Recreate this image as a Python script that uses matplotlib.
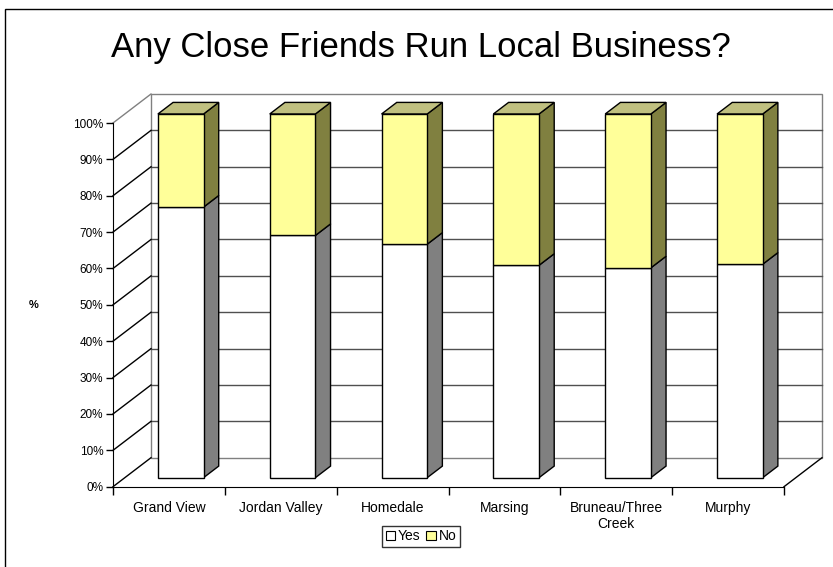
import numpy as np
import matplotlib
matplotlib.use("Agg")
import matplotlib.pyplot as plt
from matplotlib.patches import Polygon, Patch, Rectangle
from matplotlib.lines import Line2D
from matplotlib.transforms import IdentityTransform

plt.rcParams['font.family'] = ['Liberation Sans', 'DejaVu Sans']

title = 'Any Close Friends Run Local Business?'
towns = ['Grand View', 'Jordan Valley', 'Homedale', 'Marsing',
         'Bruneau/Three\nCreek', 'Murphy']
yes_pct = [74.4, 66.6, 64.2, 58.4, 57.7, 58.7]
no_pct = [25.6, 33.4, 35.8, 41.6, 42.3, 41.3]
series = ['Yes', 'No']
pct_ticks = list(range(0, 101, 10))

# colours: front face, side face, top face
face_col = {'Yes': ('#FFFFFF', '#808080', '#C0C0C0'),
            'No': ('#FFFF99', '#808040', '#C0C080')}

W, H, DPI = 833, 567, 100
DEPTH = (38, 29)           # pixel shift from front plane to back wall
BAR_D = (0.31, 0.71)       # bar depth, as fraction of the full depth
BAR_W = 0.408

fig = plt.figure(figsize=(W / DPI, H / DPI), dpi=DPI)
fig.patch.set_facecolor('white')
fig.patches.append(Rectangle((5 / W, -0.1), 1.1, 1 - 9 / H + 0.1,
                             transform=fig.transFigure, fill=False,
                             edgecolor='#000000', linewidth=1.0))

ax = fig.add_axes([113 / W, (H - 486.7) / H, 671 / W, 363.7 / H])
ax.set_xlim(0, len(towns))
ax.set_ylim(0, 100)
ax.patch.set_visible(False)
for s in ['top', 'right']:
    ax.spines[s].set_visible(False)
ax.spines['left'].set_color('#000000')
ax.spines['bottom'].set_color('#000000')
ax.spines['left'].set_zorder(6)
ax.spines['bottom'].set_zorder(6)

ax.set_yticks(pct_ticks)
ax.set_yticklabels([f'{v}%' for v in pct_ticks], fontsize=8.5)
ax.tick_params(axis='y', direction='out', length=5, width=1, pad=2)
ax.set_xticks(np.arange(len(towns) + 1))
ax.set_xticklabels([])
ax.set_xticks(np.arange(len(towns)) + 0.5, minor=True)
ax.set_xticklabels(towns, minor=True, fontsize=10, linespacing=1.25)
ax.tick_params(axis='x', which='major', direction='out', length=6, width=1)
ax.tick_params(axis='x', which='minor', length=0, pad=10)
ax.set_ylabel('%', rotation=0, fontsize=8, fontweight='bold', va='center')
ax.yaxis.set_label_coords(-0.118, 0.5)

fig.canvas.draw()


def proj(x, y, d):
    px, py = ax.transData.transform((x, y))
    return (px + d * DEPTH[0], py + d * DEPTH[1])


def line(pts, color, lw=1.0, z=1):
    xs, ys = zip(*pts)
    ax.add_line(Line2D(xs, ys, color=color, linewidth=lw,
                       transform=IdentityTransform(), clip_on=False, zorder=z))


def face(pts, fc, z=3, ec='#000000'):
    ax.add_patch(Polygon(pts, closed=True, facecolor=fc, edgecolor=ec,
                         linewidth=1.0, transform=IdentityTransform(),
                         clip_on=False, zorder=z, joinstyle='miter'))


n = len(towns)
# back wall and its gridlines
face([proj(0, 0, 1), proj(n, 0, 1), proj(n, 100, 1), proj(0, 100, 1)],
     'white', z=1, ec='#808080')
for v in pct_ticks[1:-1]:
    line([proj(0, v, 1), proj(n, v, 1)], '#505050', z=1.5)
# left wall
for v in pct_ticks[1:-1]:
    line([proj(0, v, 0), proj(0, v, 1)], '#000000', z=1.5)
line([proj(0, 100, 0), proj(0, 100, 1)], '#808080', z=1.5)
line([proj(0, 0, 0), proj(0, 0, 1)], '#000000', z=1.5)
# floor right edge
line([proj(n, 0, 0), proj(n, 0, 1)], '#000000', z=1.5)

# stacked bars
d1, d2 = BAR_D
for i in range(n):
    x0 = i + 0.5 - BAR_W / 2
    x1 = i + 0.5 + BAR_W / 2
    base = 0.0
    for name, vals in zip(series, [yes_pct, no_pct]):
        top = base + vals[i]
        front, side, cap = face_col[name]
        face([proj(x1, base, d1), proj(x1, base, d2),
              proj(x1, top, d2), proj(x1, top, d1)], side)
        face([proj(x0, base, d1), proj(x1, base, d1),
              proj(x1, top, d1), proj(x0, top, d1)], front, z=3.5)
        base = top
    cap = face_col[series[-1]][2]
    face([proj(x0, base, d1), proj(x1, base, d1),
          proj(x1, base, d2), proj(x0, base, d2)], cap)

fig.text(421 / W, 1 - 57 / H, title, ha='center', va='baseline', fontsize=25)

handles = [Patch(facecolor=face_col[s][0], edgecolor='#000000', linewidth=0.8)
           for s in series]
fig.legend(handles, series, loc='upper center', bbox_to_anchor=(421 / W, 1 - 526 / H),
           ncol=2, fontsize=10, frameon=True, fancybox=False,
           edgecolor='#000000', handlelength=0.7, handleheight=0.7, handletextpad=0.2,
           columnspacing=0.4, borderpad=0.25, borderaxespad=0)

fig.savefig('out.png', dpi=DPI)
